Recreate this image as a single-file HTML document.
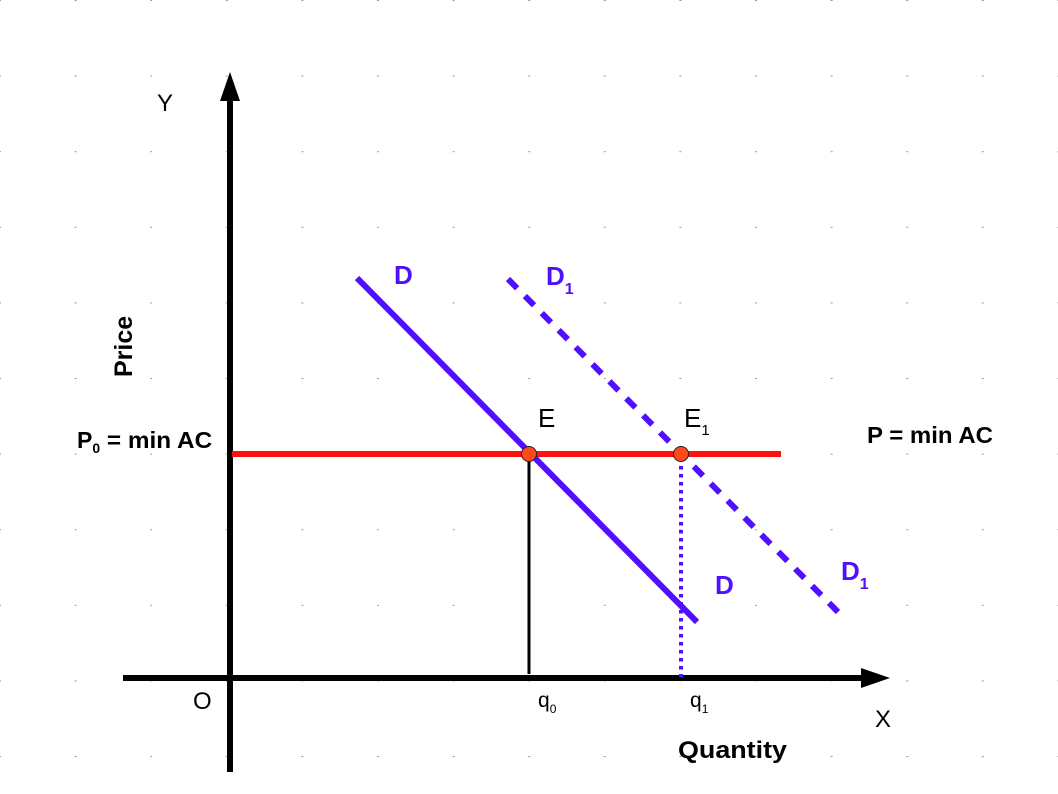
<!DOCTYPE html>
<html><head><meta charset="utf-8"><style>
html,body{margin:0;padding:0;background:#fff;}
svg{display:block;}
text{font-family:"Liberation Sans",sans-serif;}
</style></head><body>
<svg width="1058" height="794" viewBox="0 0 1058 794" xmlns="http://www.w3.org/2000/svg">
<defs>
<pattern id="g" x="-1" y="0" width="75.6" height="75.6" patternUnits="userSpaceOnUse">
<rect x="0" y="0" width="2" height="1" fill="#999"/>
</pattern>
</defs>
<rect x="0" y="0" width="1058" height="794" fill="url(#g)"/>
<line x1="230" y1="96" x2="230" y2="772" stroke="#000" stroke-width="6"/>
<polygon points="230,72 220,101 240,101" fill="#000"/>
<line x1="123" y1="678" x2="866" y2="678" stroke="#000" stroke-width="6"/>
<polygon points="890,678 861,668 861,688" fill="#000"/>
<line x1="529" y1="454" x2="529" y2="674" stroke="#000" stroke-width="3"/>
<line x1="681" y1="458" x2="681" y2="678" stroke="#5010ff" stroke-width="4" stroke-dasharray="3.5,4.5"/>
<line x1="232" y1="454" x2="781" y2="454" stroke="#ff1010" stroke-width="6"/>
<line x1="357" y1="278" x2="697" y2="622" stroke="#5010ff" stroke-width="6"/>
<line x1="508" y1="279" x2="838" y2="612" stroke="#5010ff" stroke-width="6" stroke-dasharray="13,11"/>
<circle cx="529" cy="454" r="7.5" fill="#ff4a1a" stroke="#222" stroke-width="1"/>
<circle cx="681" cy="454" r="7.5" fill="#ff4a1a" stroke="#222" stroke-width="1"/>
<text x="157" y="111" font-size="24" fill="#000">Y</text>
<text x="875" y="727" font-size="24" fill="#000">X</text>
<text x="193" y="709" font-size="24" fill="#000">O</text>
<text transform="translate(132,377) rotate(-90)" font-size="25" font-weight="bold" fill="#000">Price</text>
<text x="678" y="758" font-size="24" font-weight="bold" fill="#000" textLength="109" lengthAdjust="spacingAndGlyphs">Quantity</text>
<text x="77" y="448" font-size="23" font-weight="bold" fill="#000">P<tspan font-size="14" dy="5">0</tspan><tspan dy="-5" textLength="112" lengthAdjust="spacingAndGlyphs"> = min AC</tspan></text>
<text x="867" y="443" font-size="23" font-weight="bold" fill="#000" textLength="126" lengthAdjust="spacingAndGlyphs">P = min AC</text>
<text x="538" y="427" font-size="26" fill="#000">E</text>
<text x="684" y="427" font-size="26" fill="#000">E<tspan font-size="15" dy="8">1</tspan></text>
<text x="538" y="707" font-size="21" fill="#000">q<tspan font-size="12" dy="6">0</tspan></text>
<text x="690" y="707" font-size="21" fill="#000">q<tspan font-size="12" dy="6">1</tspan></text>
<text x="394" y="284" font-size="26" font-weight="bold" fill="#5010ff">D</text>
<text x="546" y="285" font-size="26" font-weight="bold" fill="#5010ff">D<tspan font-size="16" dy="9">1</tspan></text>
<text x="715" y="594" font-size="26" font-weight="bold" fill="#5010ff">D</text>
<text x="841" y="580" font-size="26" font-weight="bold" fill="#5010ff">D<tspan font-size="16" dy="9">1</tspan></text>
</svg>
</body></html>
